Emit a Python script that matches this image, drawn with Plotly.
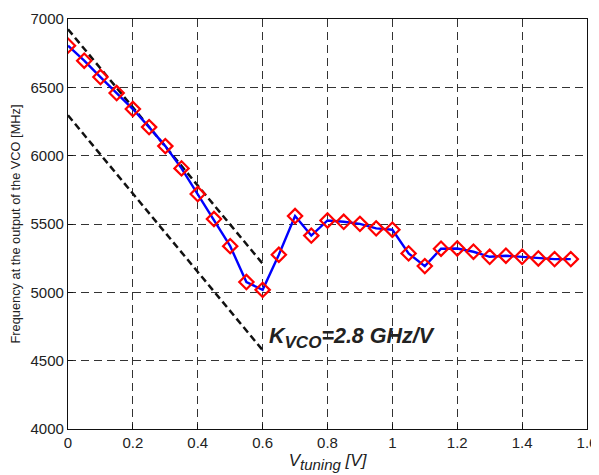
import plotly.graph_objects as go

v_tuning = [0.00, 0.05, 0.10, 0.15, 0.20, 0.25, 0.30, 0.35, 0.40, 0.45,
            0.50, 0.55, 0.60, 0.65, 0.70, 0.75, 0.80, 0.85, 0.90, 0.95,
            1.00, 1.05, 1.10, 1.15, 1.20, 1.25, 1.30, 1.35, 1.40, 1.45,
            1.50, 1.55]
freq_mhz = [6805, 6695, 6575, 6458, 6341, 6209, 6070, 5907, 5719, 5536,
            5338, 5075, 5018, 5275, 5558, 5415, 5526, 5516, 5501, 5468,
            5458, 5285, 5192, 5319, 5321, 5297, 5260, 5268, 5260, 5248,
            5243, 5243]

upper_x = [0.0, 0.6]
upper_y = [6925, 5210]
lower_x = [0.0, 0.6]
lower_y = [6295, 4577]

x_ticks = [0, 0.2, 0.4, 0.6, 0.8, 1.0, 1.2, 1.4, 1.6]
x_tick_labels = ["0", "0.2", "0.4", "0.6", "0.8", "1", "1.2", "1.4", "1.6"]
y_ticks = [4000, 4500, 5000, 5500, 6000, 6500, 7000]

annot_text = ("<b><i>K<sub><span style='font-size:17px'>VCO</span></sub>"
              "=2.8 GHz/V</i></b>")
annot_x = 0.612
annot_y = 4665

FONT = "Liberation Sans, Arial"

fig = go.Figure()
fig.add_trace(go.Scatter(x=upper_x, y=upper_y, mode="lines",
                         line=dict(color="#111", width=2.5, dash="7px,4px"),
                         showlegend=False))
fig.add_trace(go.Scatter(x=lower_x, y=lower_y, mode="lines",
                         line=dict(color="#111", width=2.5, dash="7px,4px"),
                         showlegend=False))
fig.add_trace(go.Scatter(x=v_tuning, y=freq_mhz, mode="lines+markers",
                         line=dict(color="#0000ff", width=2.4),
                         marker=dict(symbol="diamond-open", size=11,
                                     color="#ff0000", line=dict(width=2.2, color="#ff0000")),
                         showlegend=False))

fig.add_annotation(x=annot_x, y=annot_y, text=annot_text, showarrow=False,
                   xanchor="left", yanchor="middle",
                   font=dict(family=FONT, size=21.5, color="#222"))

axis_common = dict(showline=True, linecolor="#111", linewidth=1.3, mirror=True,
                   showgrid=True, gridcolor="#333", gridwidth=1, griddash="8px,5px",
                   zeroline=False, ticks="inside", ticklen=5, tickcolor="#111",
                   tickfont=dict(family=FONT, size=15, color="#222"))

fig.update_xaxes(range=[0, 1.6], tickvals=x_ticks, ticktext=x_tick_labels,
                 title=dict(text="<i>V<sub><span style='font-size:15px'>tuning</span></sub> [V]</i>",
                            font=dict(family=FONT, size=17, color="#222"),
                            standoff=0),
                 **axis_common)
fig.update_yaxes(range=[4000, 7000], tickvals=y_ticks,
                 title=dict(text="Frequency at the output of the VCO [MHz]",
                            font=dict(family=FONT, size=12.8, color="#222"),
                            standoff=15),
                 **axis_common)

# page body has an 8px margin; size/margins compensate so the plot area
# lands at x 68..587, y 19..429 of the window
fig.update_layout(width=591, height=467,
                  margin=dict(l=60, r=12, t=11, b=46, autoexpand=False),
                  paper_bgcolor="white", plot_bgcolor="white")

fig.write_html("out.html")
